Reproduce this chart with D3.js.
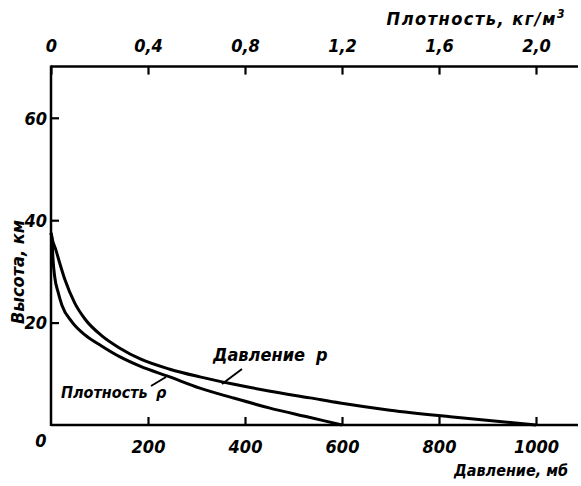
<!DOCTYPE html>
<html><head><meta charset="utf-8">
<script src="https://cdn.jsdelivr.net/npm/d3@7"></script>
<style>
body{margin:0;background:#fff;}
text{font-family:"DejaVu Sans Condensed","DejaVu Sans",sans-serif;font-weight:bold;font-style:italic;fill:#000;}
</style></head>
<body><svg id="c" width="581" height="486"></svg>
<script>
// Pressure curve: [pressure mb, height km]
const pressureCurve = [[0,37.5],[2,36.5],[10,34.2],[19,31.3],[29,28.3],[49,23.8],[70,20.7],[105,17.4],[142,15.0],[184,12.9],[245,10.9],[307,9.4],[375,8.0],[452,6.6],[534,5.3],[596,4.3],[699,2.9],[823,1.6],[1000,0]];
// Density curve: [density kg/m3, height km]
const densityCurve = [[0,37.5],[0.004,36.5],[0.008,32.6],[0.016,28.7],[0.029,26.0],[0.045,23.4],[0.087,20.1],[0.14,17.6],[0.21,15.4],[0.285,13.3],[0.367,11.5],[0.49,9.4],[0.614,7.2],[0.75,5.3],[0.903,3.3],[1.056,1.6],[1.2,0]];
const pressureTicks = [200,400,600,800,1000];
const densityTicks = [0,0.4,0.8,1.2,1.6,2.0];
const heightTicks = [20,40,60];

const svg = d3.select("#c");
const x = d3.scaleLinear().domain([0,1000]).range([51,536]);
const xd = d3.scaleLinear().domain([0,2]).range([51,536]);
const y = d3.scaleLinear().domain([0,70]).range([425,66.6]);
const xEnd = 578;

const fmt = d => d3.format(".1f")(d).replace(".",",").replace(/^0,0$/,"0");

// frame
const g = svg.append("g");
g.append("line").attr("x1",x(0)).attr("x2",xEnd).attr("y1",y(0)).attr("y2",y(0)).attr("stroke","#000").attr("stroke-width",2.5);
g.append("line").attr("x1",x(0)).attr("x2",xEnd).attr("y1",y(70)).attr("y2",y(70)).attr("stroke","#000").attr("stroke-width",2.5);
g.append("line").attr("x1",x(0)).attr("x2",x(0)).attr("y1",y(70)-1).attr("y2",y(0)+1).attr("stroke","#000").attr("stroke-width",2.5);

// bottom axis
const bx = svg.append("g").attr("transform",`translate(0,${y(0)})`)
  .call(d3.axisBottom(x).tickValues(pressureTicks).tickSize(-8).tickPadding(15).tickFormat(d3.format("d")));
// top axis
const tx = svg.append("g").attr("transform",`translate(0,${y(70)})`)
  .call(d3.axisTop(xd).tickValues(densityTicks).tickSize(-8).tickPadding(15).tickFormat(fmt));
// left axis
const lx = svg.append("g").attr("transform",`translate(${x(0)},0)`)
  .call(d3.axisLeft(y).tickValues(heightTicks).tickSize(-8).tickPadding(4).tickFormat(d3.format("d")));
[bx,tx,lx].forEach(a=>{
  a.select(".domain").remove();
  a.selectAll(".tick line").attr("stroke","#000").attr("stroke-width",2.2);
  a.selectAll(".tick text").style("font-size","18px").attr("fill","#000");
});
lx.selectAll(".tick text").attr("dy","0.35em");

// origin label
svg.append("text").attr("x",x(0)-10).attr("y",y(0)+22).attr("text-anchor","middle").style("font-size","18px").text("0");

// curves
const line = d3.line().curve(d3.curveMonotoneX);
svg.append("path").attr("d",line(pressureCurve.map(d=>[x(d[0]),y(d[1])])))
  .attr("fill","none").attr("stroke","#000").attr("stroke-width",3);
svg.append("path").attr("d",line(densityCurve.map(d=>[xd(d[0]),y(d[1])])))
  .attr("fill","none").attr("stroke","#000").attr("stroke-width",3);

// curve labels with leaders
svg.append("text").attr("x",213).attr("y",361).style("font-size","18px").text("Давление");
svg.append("text").attr("x",316).attr("y",361).style("font-size","18px").text("p");
svg.append("line").attr("x1",222).attr("y1",384).attr("x2",242).attr("y2",369).attr("stroke","#000").attr("stroke-width",2);
svg.append("text").attr("x",61).attr("y",398).style("font-size","16px").text("Плотность");
svg.append("text").attr("x",156).attr("y",398).style("font-size","16px").text("ρ");
svg.append("line").attr("x1",151).attr("y1",386).attr("x2",166).attr("y2",377).attr("stroke","#000").attr("stroke-width",2);

// axis titles
svg.append("text").attr("x",566).attr("y",25).attr("text-anchor","end").style("font-size","18px").style("letter-spacing","1.5px")
  .html('Плотность, кг/м<tspan dy="-7" style="font-size:12px">3</tspan>');
svg.append("text").attr("x",568).attr("y",476).attr("text-anchor","end").style("font-size","16px").text("Давление, мб");
svg.append("text").attr("transform","translate(24,272) rotate(-90)").attr("text-anchor","middle").style("font-size","18px").text("Высота, км");
</script></body></html>
